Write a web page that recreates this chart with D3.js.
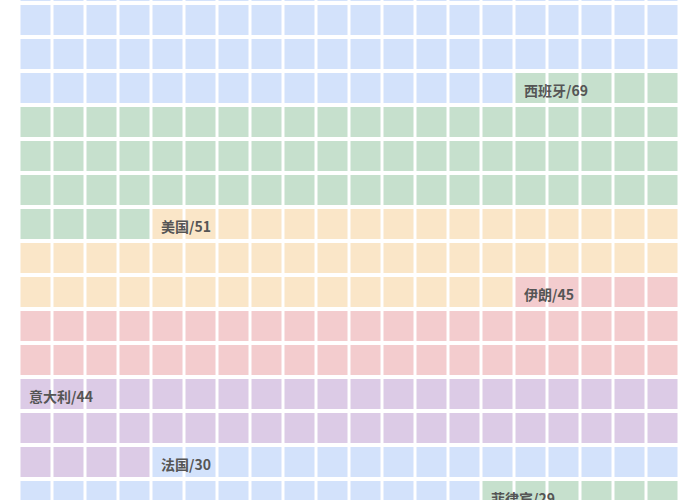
<!DOCTYPE html>
<html>
<head>
<meta charset="utf-8">
<script src="https://cdn.jsdelivr.net/npm/d3@7"></script>
<style>
  body { margin: 0; background: #fff; }
  svg { display: block; }
</style>
</head>
<body>
<div id="chart"></div>
<script>
const width = 700;
const height = 500;

// Données (le premier bloc est la fin d'une catégorie coupée en haut, sans étiquette)
const countries = ["", "西班牙", "美国", "伊朗", "意大利", "法国", "菲律宾"];
const counts = [75, 69, 51, 45, 44, 30, 29];
const palette = ["#d3e2fb", "#c6e0cd", "#fae6c8", "#f3ccce", "#dccbe6"];

const nCols = 20;
const rowOffset = -1; // la grille commence une ligne au-dessus du cadre

// Construction des cellules
let cells = [];
let labels = [];
let idx = 0;
countries.forEach((name, i) => {
  labels.push({ name: name, value: counts[i], start: idx });
  for (let k = 0; k < counts[i]; k++) {
    cells.push({ index: idx, color: palette[i % palette.length] });
    idx++;
  }
});
const nRows = Math.ceil(idx / nCols);

const x = d3.scaleBand()
  .domain(d3.range(nCols))
  .range([20.5, 20.5 + 33 * nCols - 3])
  .paddingInner(3 / 33)
  .paddingOuter(0);

const y = d3.scaleBand()
  .domain(d3.range(rowOffset, rowOffset + nRows))
  .range([5 + 34 * rowOffset, 5 + 34 * (rowOffset + nRows) - 4])
  .paddingInner(4 / 34)
  .paddingOuter(0);

const svg = d3.select("#chart").append("svg")
  .attr("width", width)
  .attr("height", height);

svg.append("g")
  .selectAll("rect")
  .data(cells)
  .join("rect")
  .attr("x", d => x(d.index % nCols))
  .attr("y", d => y(Math.floor(d.index / nCols) + rowOffset))
  .attr("width", x.bandwidth())
  .attr("height", y.bandwidth())
  .attr("fill", d => d.color);

svg.append("g")
  .selectAll("text")
  .data(labels.filter(d => d.name !== ""))
  .join("text")
  .attr("x", d => x(d.start % nCols) + 8.5)
  .attr("y", d => y(Math.floor(d.start / nCols) + rowOffset) + y.bandwidth() / 2 + 3)
  .attr("dy", "0.36em")
  .attr("font-family", "'Noto Sans CJK SC', 'Noto Sans', sans-serif")
  .attr("font-size", 14)
  .attr("font-weight", "bold")
  .attr("fill", "#555")
  .text(d => d.name + "/" + d.value);
</script>
</body>
</html>
